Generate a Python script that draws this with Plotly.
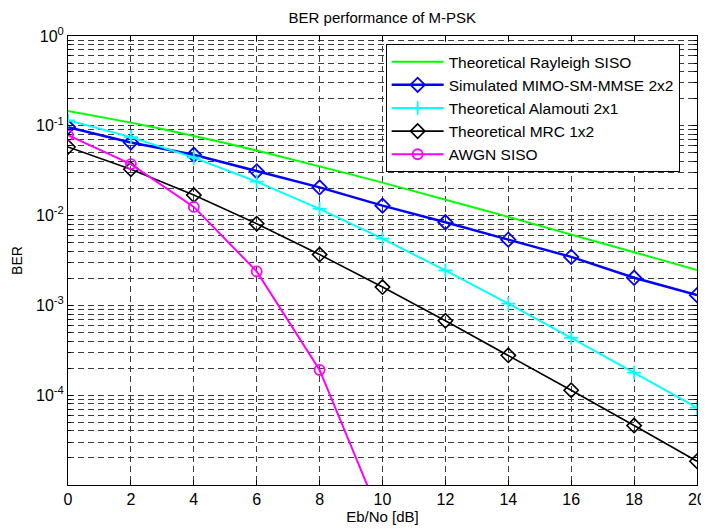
import plotly.graph_objects as go

# ---- data ----
ebno_fine = list(range(0, 21))
rayleigh_siso = [0.1464, 0.1267, 0.1085, 0.0919, 0.0771, 0.0642, 0.0530, 0.0435,
                 0.0355, 0.0288, 0.0233, 0.0188, 0.0151, 0.0121, 0.00967, 0.00774,
                 0.00617, 0.00492, 0.00391, 0.00311, 0.00248]

ebno = [0, 2, 4, 6, 8, 10, 12, 14, 16, 18, 20]
mimo_sm_mmse = [0.0967, 0.0653, 0.0476, 0.0311, 0.0206, 0.0129, 0.00843,
                0.0054, 0.00347, 0.00203, 0.0013]
alamouti_2x1 = [0.1151, 0.0748, 0.0442, 0.0239, 0.01188, 0.00553, 0.00245,
                0.001046, 0.000436, 0.0001788, 0.0000726]
mrc_1x2 = [0.0581, 0.0328, 0.01693, 0.00813, 0.00368, 0.0016, 0.000674,
           0.000278, 0.0001135, 0.0000459, 0.0000184]
ebno_awgn = [0, 2, 4, 6, 8, 10, 12]
awgn_siso = [0.0787, 0.0375, 0.0125, 0.00239, 0.000191, 0.00000387, 0.000000009]

y_tick_vals = [1, 0.1, 0.01, 0.001, 0.0001]
y_tick_text = ["10<sup>0</sup>", "10<sup>-1</sup>", "10<sup>-2</sup>",
               "10<sup>-3</sup>", "10<sup>-4</sup>"]
x_tick_vals = [0, 2, 4, 6, 8, 10, 12, 14, 16, 18, 20]

FONT = "Liberation Sans, Arial, Helvetica, sans-serif"
GRID = "#3c3c3c"
DASH = "6px,4px"

minor_vals = [m * 10.0 ** e for e in range(-5, 0) for m in range(2, 10)]

fig = go.Figure()
fig.add_trace(go.Scatter(x=ebno_fine, y=rayleigh_siso, mode="lines",
                         name="Theoretical Rayleigh SISO",
                         line=dict(color="#00ff00", width=2)))
fig.add_trace(go.Scatter(x=ebno, y=mimo_sm_mmse, mode="lines+markers",
                         name="Simulated MIMO-SM-MMSE 2x2",
                         line=dict(color="#0000ff", width=2.5),
                         marker=dict(symbol="diamond-open", size=11,
                                     color="#0000ff",
                                     line=dict(width=1.8, color="#0000ff"))))
fig.add_trace(go.Scatter(x=ebno, y=alamouti_2x1, mode="lines+markers",
                         name="Theoretical Alamouti 2x1",
                         line=dict(color="#00ffff", width=2),
                         marker=dict(symbol="cross-thin-open", size=10,
                                     color="#00ffff",
                                     line=dict(width=1.8, color="#00ffff"))))
fig.add_trace(go.Scatter(x=ebno, y=mrc_1x2, mode="lines+markers",
                         name="Theoretical MRC 1x2",
                         line=dict(color="#000000", width=1.6),
                         marker=dict(symbol="diamond-open", size=11,
                                     color="#000000",
                                     line=dict(width=1.6, color="#000000"))))
fig.add_trace(go.Scatter(x=ebno_awgn, y=awgn_siso, mode="lines+markers",
                         name="AWGN SISO",
                         line=dict(color="#ff00ff", width=2),
                         marker=dict(symbol="circle-open", size=10,
                                     color="#ff00ff",
                                     line=dict(width=1.8, color="#ff00ff"))))

# The page body has an 8px margin, so the figure is sized/offset to compensate.
fig.update_layout(
    width=701, height=521,
    margin=dict(l=60, r=12, t=28, b=44, autoexpand=False),
    paper_bgcolor="white", plot_bgcolor="white",
    font=dict(family=FONT, size=15, color="black"),
    title=dict(text="BER performance of M-PSK", x=0.534, xanchor="center",
               y=0.981, yanchor="middle", font=dict(size=15)),
    showlegend=True,
    legend=dict(x=0.505, y=0.982, xanchor="left", yanchor="top",
                bgcolor="white", bordercolor="black", borderwidth=1,
                font=dict(size=15.5), tracegroupgap=0, itemwidth=52),
)

fig.update_xaxes(
    range=[0, 20], tickmode="array", tickvals=x_tick_vals,
    showline=True, linecolor="black", linewidth=1, mirror="ticks",
    ticks="inside", ticklen=5, tickcolor="black",
    showgrid=True, gridcolor=GRID, gridwidth=1, griddash=DASH,
    zeroline=False, automargin=False,
    title=dict(text="Eb/No [dB]", standoff=2, font=dict(size=15)),
    tickfont=dict(size=16),
)
fig.update_yaxes(
    type="log", range=[-5, 0], tickmode="array",
    tickvals=y_tick_vals, ticktext=y_tick_text,
    showline=True, linecolor="black", linewidth=1, mirror="ticks",
    ticks="inside", ticklen=5, tickcolor="black",
    showgrid=True, gridcolor=GRID, gridwidth=1, griddash=DASH,
    zeroline=False, automargin=False,
    minor=dict(tickmode="array", tickvals=minor_vals, ticks="inside",
               ticklen=3, tickcolor="black", showgrid=True,
               gridcolor=GRID, gridwidth=1, griddash=DASH),
    title=dict(text="BER", standoff=10, font=dict(size=14)),
    tickfont=dict(size=16),
)

fig.write_html("out.html")
